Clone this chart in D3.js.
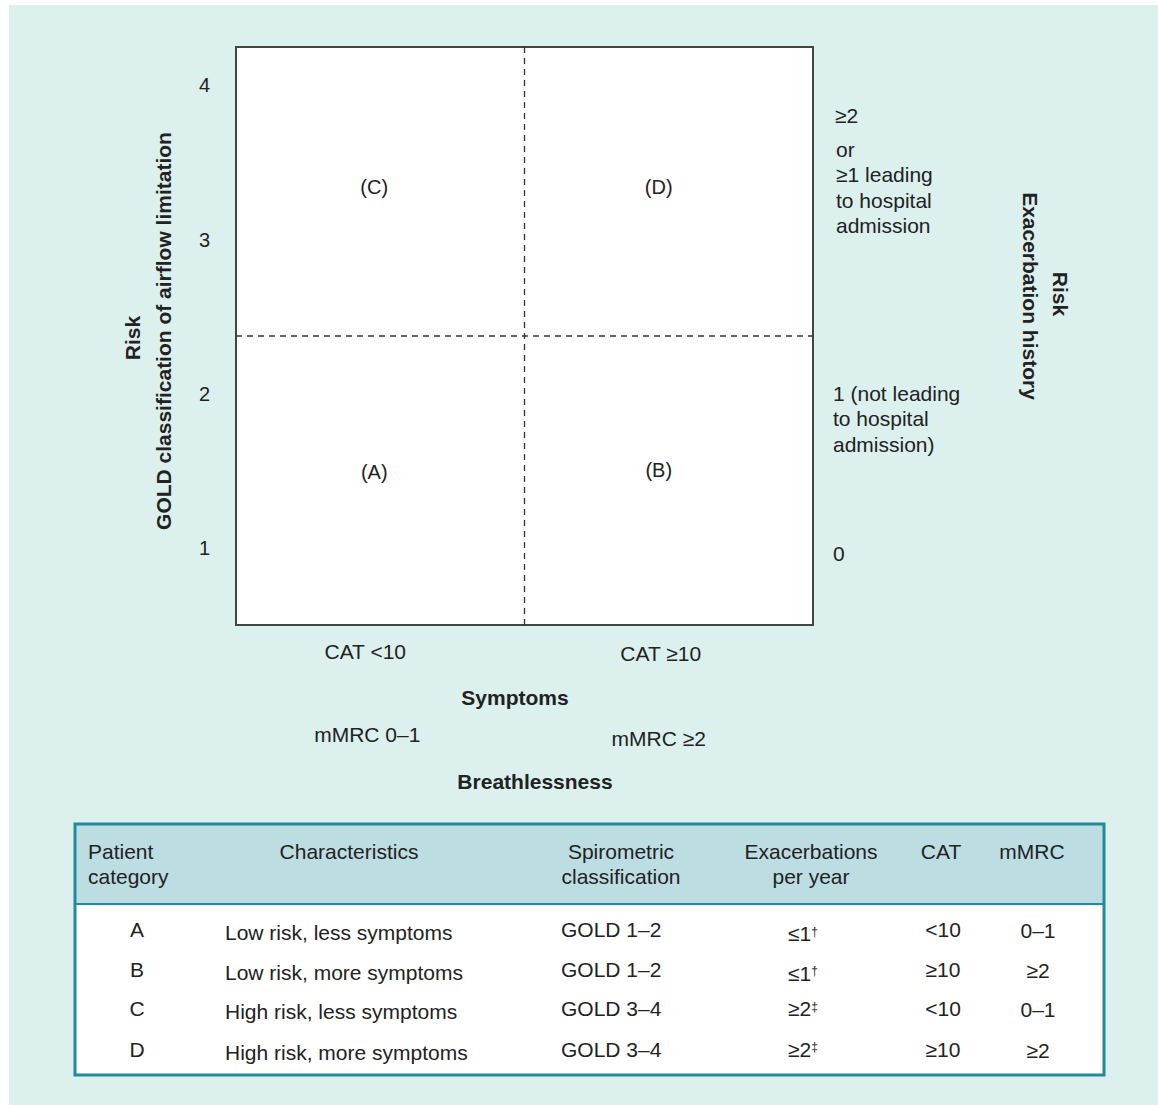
<!DOCTYPE html>
<html>
<head>
<meta charset="utf-8">
<script src="https://cdn.jsdelivr.net/npm/d3@7"></script>
<style>
  body { margin: 0; background: #fff; }
  text { font-family: "Liberation Sans", Arial, sans-serif; fill: #222; }
</style>
</head>
<body>
<div id="chart"></div>
<script>
// grid values
var yTicks = [1, 2, 3, 4];
var symptomCats = ["low", "high"];
var catLabels = ["CAT <10", "CAT \u226510"];
var mmrcLabels = ["mMRC 0\u20131", "mMRC \u22652"];
var quadLabels = ["(A)", "(B)", "(C)", "(D)"];
var quadCol = [0, 1, 0, 1];
var quadRow = [0, 0, 1, 1];
var exacHigh = ["\u22652", "or", "\u22651 leading", "to hospital", "admission"];
var exacMid = ["1 (not leading", "to hospital", "admission)"];
var exacLow = ["0"];

// table values
var headers = [["Patient", "category"], ["Characteristics"], ["Spirometric", "classification"], ["Exacerbations", "per year"], ["CAT"], ["mMRC"]];
var categories = ["A", "B", "C", "D"];
var characteristics = ["Low risk, less symptoms", "Low risk, more symptoms", "High risk, less symptoms", "High risk, more symptoms"];
var spirometric = ["GOLD 1\u20132", "GOLD 1\u20132", "GOLD 3\u20134", "GOLD 3\u20134"];
var exacBase = ["\u22641", "\u22641", "\u22652", "\u22652"];
var exacMark = ["\u2020", "\u2020", "\u2021", "\u2021"];
var catVals = ["<10", "\u226510", "<10", "\u226510"];
var mmrcVals = ["0\u20131", "\u22652", "0\u20131", "\u22652"];

var width = 1158, height = 1105;
var fs = "21px";

var svg = d3.select("#chart").append("svg")
  .attr("width", width)
  .attr("height", height);

// panel background
svg.append("rect")
  .attr("x", 9).attr("y", 5)
  .attr("width", width - 9).attr("height", height - 5)
  .attr("fill", "#dcf0ee");

var box = {left: 236, top: 47, right: 813, bottom: 625};

var y = d3.scaleLinear().domain([0.5, 4.25]).range([box.bottom, box.top]);
var x = d3.scaleBand().domain(symptomCats).range([box.left, box.right]);
var midY = y(2.375);
var midX = x("high");

// plot box
svg.append("rect")
  .attr("x", box.left).attr("y", box.top)
  .attr("width", box.right - box.left).attr("height", box.bottom - box.top)
  .attr("fill", "#fff")
  .attr("stroke", "#444")
  .attr("stroke-width", 2);

// dashed dividers
svg.append("line")
  .attr("x1", midX).attr("x2", midX)
  .attr("y1", box.top).attr("y2", box.bottom)
  .attr("stroke", "#333").attr("stroke-width", 1.3)
  .attr("stroke-dasharray", "6,5");
svg.append("line")
  .attr("x1", box.left).attr("x2", box.right)
  .attr("y1", midY).attr("y2", midY)
  .attr("stroke", "#333").attr("stroke-width", 1.3)
  .attr("stroke-dasharray", "6,5");

// left axis: GOLD grades
var yAxis = svg.append("g")
  .attr("transform", "translate(" + (box.left - 26) + ",0)")
  .call(d3.axisLeft(y).tickValues(yTicks).tickSize(0).tickPadding(0).tickFormat(d3.format("d")));
yAxis.select(".domain").remove();
yAxis.selectAll("text")
  .style("font-family", "'Liberation Sans', Arial, sans-serif")
  .style("font-size", "20px")
  .attr("fill", "#222");

// quadrant labels
var quadShift = [-6, -10];
svg.selectAll(".quad")
  .data(quadLabels)
  .enter()
  .append("text")
  .attr("class", "quad")
  .attr("x", function(d, i) { return x(symptomCats[quadCol[i]]) + x.bandwidth() / 2 + quadShift[quadCol[i]]; })
  .attr("y", function(d, i) { return quadRow[i] ? (box.top + midY) / 2 - 5 : (midY + box.bottom) / 2 - 9 - quadCol[i] * 2; })
  .attr("dy", "0.35em")
  .attr("text-anchor", "middle")
  .style("font-size", "20px")
  .text(function(d) { return d; });

// symptom labels under the box
svg.selectAll(".cat")
  .data(catLabels)
  .enter()
  .append("text")
  .attr("class", "cat")
  .attr("x", function(d, i) { return x(symptomCats[i]) + x.bandwidth() / 2 + (i ? -8 : -15); })
  .attr("y", function(d, i) { return 659 + i * 2; })
  .attr("text-anchor", "middle")
  .style("font-size", fs)
  .text(function(d) { return d; });

svg.selectAll(".mmrc")
  .data(mmrcLabels)
  .enter()
  .append("text")
  .attr("class", "mmrc")
  .attr("x", function(d, i) { return x(symptomCats[i]) + x.bandwidth() / 2 + (i ? -10 : -13); })
  .attr("y", function(d, i) { return 742 + i * 4; })
  .attr("text-anchor", "middle")
  .style("font-size", fs)
  .text(function(d) { return d; });

svg.append("text")
  .attr("x", 515).attr("y", 705)
  .attr("text-anchor", "middle")
  .style("font-size", fs).style("font-weight", "bold")
  .text("Symptoms");
svg.append("text")
  .attr("x", 535).attr("y", 789)
  .attr("text-anchor", "middle")
  .style("font-size", fs).style("font-weight", "bold")
  .text("Breathlessness");

// left axis title
var leftTitle = svg.append("text")
  .attr("transform", "translate(140," + midY + ") rotate(-90)")
  .attr("text-anchor", "middle")
  .style("font-size", fs).style("font-weight", "bold");
leftTitle.append("tspan").attr("x", -2).attr("dy", 0).text("Risk");
leftTitle.append("tspan").attr("x", 5).attr("dy", 31).text("GOLD classification of airflow limitation");

// right labels: exacerbation history
function addBlock(lines, top, left) {
  var t = svg.append("text")
    .attr("x", left).attr("y", top)
    .style("font-size", fs);
  t.selectAll("tspan")
    .data(lines)
    .enter()
    .append("tspan")
    .attr("x", function(d, i) { return i === 0 && lines.length === 5 ? left - 1 : left; })
    .attr("dy", function(d, i) { return i === 0 ? 0 : (lines.length === 5 && i === 1 ? 34 : 25.5); })
    .text(function(d) { return d; });
}
addBlock(exacHigh, y(4) + 37, 836);
addBlock(exacMid, y(2) + 7, 833);
addBlock(exacLow, y(1) + 13, 833);

var rightTitle = svg.append("text")
  .attr("transform", "translate(1053,294) rotate(90)")
  .attr("text-anchor", "middle")
  .style("font-size", fs).style("font-weight", "bold");
rightTitle.append("tspan").attr("x", 0).attr("dy", 0).text("Risk");
rightTitle.append("tspan").attr("x", 2).attr("dy", 30).text("Exacerbation history");

// table
var tbl = {left: 75, top: 824, right: 1104, bottom: 1075, headBottom: 904};
svg.append("rect")
  .attr("x", tbl.left).attr("y", tbl.top)
  .attr("width", tbl.right - tbl.left).attr("height", tbl.bottom - tbl.top)
  .attr("fill", "#fff");
svg.append("rect")
  .attr("x", tbl.left).attr("y", tbl.top)
  .attr("width", tbl.right - tbl.left).attr("height", tbl.headBottom - tbl.top)
  .attr("fill", "#bcdde2");
svg.append("line")
  .attr("x1", tbl.left).attr("x2", tbl.right)
  .attr("y1", tbl.headBottom).attr("y2", tbl.headBottom)
  .attr("stroke", "#1e8c9c").attr("stroke-width", 2);
svg.append("rect")
  .attr("x", tbl.left).attr("y", tbl.top)
  .attr("width", tbl.right - tbl.left).attr("height", tbl.bottom - tbl.top)
  .attr("fill", "none")
  .attr("stroke", "#1e8c9c").attr("stroke-width", 3);

var headX = [88, 349, 621, 811, 941, 1032];
var headAnchor = ["start", "middle", "middle", "middle", "middle", "middle"];

svg.selectAll(".head")
  .data(headers)
  .enter()
  .append("text")
  .attr("class", "head")
  .attr("x", function(d, i) { return headX[i]; })
  .attr("y", 859)
  .attr("text-anchor", function(d, i) { return headAnchor[i]; })
  .style("font-size", fs)
  .each(function(d, i) {
    d3.select(this).selectAll("tspan")
      .data(d)
      .enter()
      .append("tspan")
      .attr("x", headX[i])
      .attr("dy", function(s, j) { return j ? 25 : 0; })
      .text(function(s) { return s; });
  });

var row = d3.scaleBand().domain(categories).range([911, 1069]);
function rowY(d) { return row(d) + row.bandwidth() / 2; }
var jitter = [0, 0, 0, 1];

function column(cls, values, xPos, anchor, dy) {
  svg.selectAll("." + cls)
    .data(values)
    .enter()
    .append("text")
    .attr("class", cls)
    .attr("x", xPos)
    .attr("y", function(d, i) { return rowY(categories[i]) + dy + jitter[i]; })
    .attr("dy", "0.35em")
    .attr("text-anchor", anchor)
    .style("font-size", fs)
    .text(function(d) { return d; });
}
column("c-cat", categories, 137, "middle", -1);
column("c-char", characteristics, 225, "start", 2);
column("c-spiro", spirometric, 561, "start", -1);
column("c-cat2", catVals, 943, "middle", -1);
column("c-mmrc", mmrcVals, 1038, "middle", 0);

svg.selectAll(".c-exac")
  .data(exacBase)
  .enter()
  .append("text")
  .attr("class", "c-exac")
  .attr("x", 803)
  .attr("y", function(d, i) { return rowY(categories[i]) + (i < 2 ? 3 : -1) + jitter[i]; })
  .attr("dy", "0.35em")
  .attr("text-anchor", "middle")
  .style("font-size", fs)
  .each(function(d, i) {
    var t = d3.select(this);
    t.append("tspan").text(d);
    t.append("tspan")
      .attr("dy", "-0.45em")
      .style("font-size", "12px")
      .text(exacMark[i]);
  });
</script>
</body>
</html>
